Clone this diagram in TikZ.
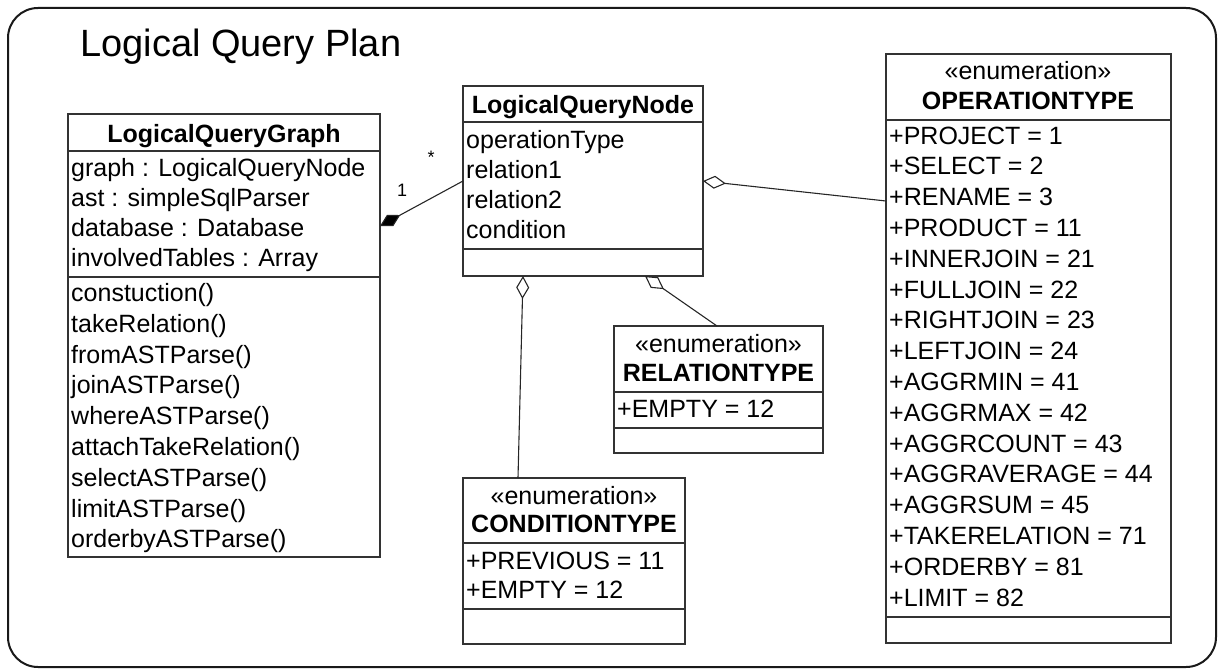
\documentclass[tikz,border=0pt]{standalone}
\usepackage{fontspec}
\setmainfont{Liberation Sans}
\usetikzlibrary{arrows.meta}
\newcommand\rowfont{\fontsize{25pt}{30pt}\selectfont}
\newcommand\plantitlefont{\fontsize{38pt}{44pt}\selectfont}
\newcommand\multfont{\fontsize{18pt}{20pt}\selectfont}
\tikzset{
  umlbox/.style={draw=black!80, line width=1.3pt, rectangle, inner sep=0pt, outer sep=0pt, anchor=north west, fill=white},
  sepline/.style={draw=black!80, line width=1.3pt},
  row/.style={anchor=base west, inner sep=0pt, font=\rowfont},
  classname/.style={anchor=base, inner sep=0pt, font=\rowfont\bfseries},
  stereo/.style={anchor=base, inner sep=0pt, font=\rowfont},
  mult/.style={anchor=center, inner sep=0pt, font=\multfont},
  agg/.style={draw=black!85, line width=1.1pt, -{Diamond[open, length=23pt, width=13pt, line width=1.1pt]}},
  comp/.style={draw=black!85, line width=1.1pt, -{Diamond[fill=black, length=23pt, width=13pt, line width=1.1pt]}},
}
\begin{document}
\begin{tikzpicture}[x=1pt, y=-1pt]
\useasboundingbox (0,0) rectangle (1218,669);
% outer frame
\draw[line width=2pt, draw=black!90, rounded corners=30pt] (8,8) rectangle (1216,667);
\node[anchor=base west, inner sep=0pt, font=\plantitlefont] (plantitle) at (80,57) {Logical Query Plan};

% LogicalQueryGraph
\node[umlbox, minimum width=312pt, minimum height=443pt] (lqg) at (68,114) {};
\draw[sepline] ([yshift=-37pt]lqg.north west) -- ([yshift=-37pt]lqg.north east);
\draw[sepline] ([yshift=-163pt]lqg.north west) -- ([yshift=-163pt]lqg.north east);
\node[classname] (lqgname) at (224,142) {LogicalQueryGraph};
\foreach \t [count=\i from 0] in {graph : LogicalQueryNode, ast : simpleSqlParser, database : Database, involvedTables : Array}
  \node[row] (lqga\i) at (71,{176+30.3*\i}) {\t};
\foreach \t [count=\i from 0] in {constuction(), takeRelation(), fromASTParse(), joinASTParse(), whereASTParse(), attachTakeRelation(), selectASTParse(), limitASTParse(), orderbyASTParse()}
  \node[row] (lqgm\i) at (71,{301.5+30.8*\i}) {\t};

% LogicalQueryNode
\node[umlbox, minimum width=240pt, minimum height=190pt] (lqn) at (463,86) {};
\draw[sepline] ([yshift=-36pt]lqn.north west) -- ([yshift=-36pt]lqn.north east);
\draw[sepline] ([yshift=-163pt]lqn.north west) -- ([yshift=-163pt]lqn.north east);
\node[classname] (lqnname) at (583,113) {LogicalQueryNode};
\foreach \t [count=\i from 0] in {operationType, relation1, relation2, condition}
  \node[row] (lqna\i) at (466,{148+30.3*\i}) {\t};

% OPERATIONTYPE
\node[umlbox, minimum width=285pt, minimum height=589pt] (op) at (886,54) {};
\draw[sepline] ([yshift=-66pt]op.north west) -- ([yshift=-66pt]op.north east);
\draw[sepline] ([yshift=-563pt]op.north west) -- ([yshift=-563pt]op.north east);
\node[stereo] (opst) at (1028,80) {«enumeration»};
\node[classname] (opname) at (1028,110) {OPERATIONTYPE};
\foreach \t [count=\i from 0] in {+PROJECT = 1, +SELECT = 2, +RENAME = 3, +PRODUCT = 11, +INNERJOIN = 21, +FULLJOIN = 22, +RIGHTJOIN = 23, +LEFTJOIN = 24, +AGGRMIN = 41, +AGGRMAX = 42, +AGGRCOUNT = 43, +AGGRAVERAGE = 44, +AGGRSUM = 45, +TAKERELATION = 71, +ORDERBY = 81, +LIMIT = 82}
  \node[row] (opv\i) at (889,{144+30.8*\i}) {\t};

% RELATIONTYPE
\node[umlbox, minimum width=209pt, minimum height=127pt] (rel) at (614,326) {};
\draw[sepline] ([yshift=-66pt]rel.north west) -- ([yshift=-66pt]rel.north east);
\draw[sepline] ([yshift=-102pt]rel.north west) -- ([yshift=-102pt]rel.north east);
\node[stereo] (relst) at (718.5,352) {«enumeration»};
\node[classname] (relname) at (718.5,381) {RELATIONTYPE};
\node[row] (relv0) at (617,417) {+EMPTY = 12};

% CONDITIONTYPE
\node[umlbox, minimum width=222pt, minimum height=166pt] (cond) at (463,478) {};
\draw[sepline] ([yshift=-65pt]cond.north west) -- ([yshift=-65pt]cond.north east);
\draw[sepline] ([yshift=-131pt]cond.north west) -- ([yshift=-131pt]cond.north east);
\node[stereo] (condst) at (574,504) {«enumeration»};
\node[classname] (condname) at (574,532) {CONDITIONTYPE};
\node[row] (condv0) at (466,569) {+PREVIOUS = 11};
\node[row] (condv1) at (466,598) {+EMPTY = 12};

% associations
\draw[comp] (lqn.west) -- ([yshift=-112pt]lqg.north east);
\node[mult] (multone) at (402,190) {1};
\node[mult] (multmany) at (431,157) {*};
\draw[agg] ([yshift=-147pt]op.north west) -- (lqn.east);
\draw[agg] ([xshift=55pt]cond.north west) -- ([xshift=60pt]lqn.south west);
\draw[agg] ([xshift=103pt]rel.north west) -- ([xshift=182pt]lqn.south west);
\end{tikzpicture}
\end{document}
